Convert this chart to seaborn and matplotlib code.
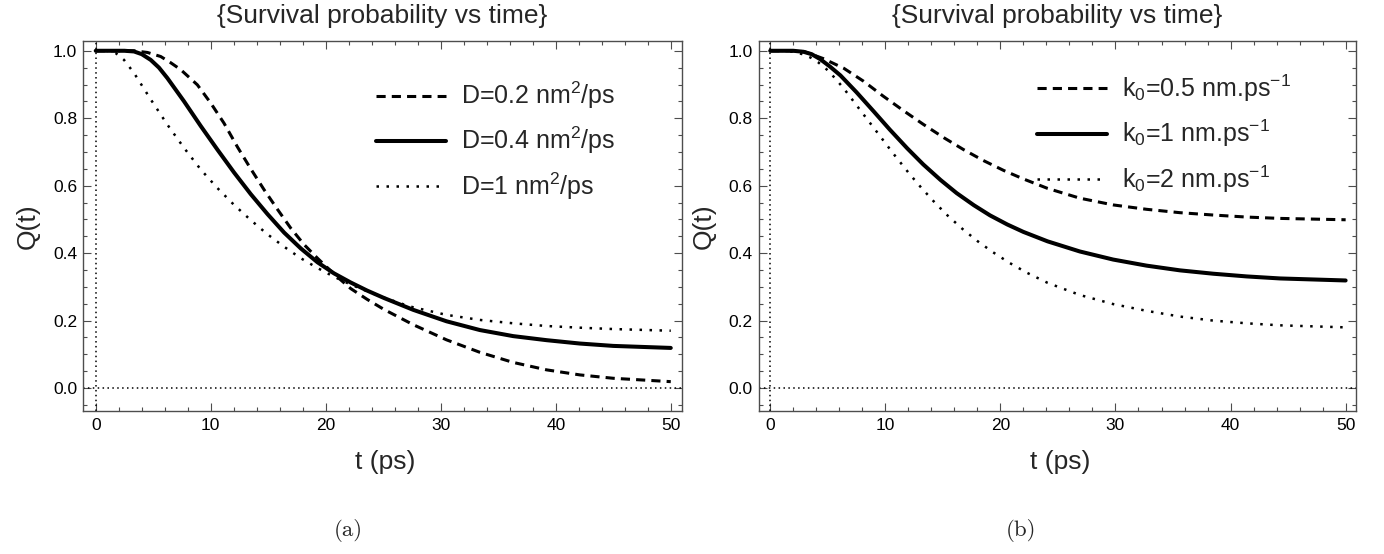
import numpy as np
import pandas as pd
import matplotlib
matplotlib.use("Agg")
import matplotlib.pyplot as plt
from matplotlib.ticker import MultipleLocator, FormatStrFormatter
import seaborn as sns

# ---------------- data ----------------
# Panel (a): diffusion coefficient D
t_d02 = [0, 3.3, 4.5, 5.65, 6.5, 7.39, 8.84, 10.0, 11.16, 12.32, 13.48, 14.64, 15.8, 16.96, 18.1,
         19.28, 20.72, 22.17, 23.6, 25.07, 27.6, 30.5, 33.4, 36.3, 39.2, 42.1, 45.0, 50]
q_d02 = [1.0, 1.0, 0.995, 0.983, 0.965, 0.944, 0.899, 0.845, 0.785, 0.715, 0.650, 0.588, 0.530, 0.474, 0.426,
         0.385, 0.338, 0.295, 0.263, 0.233, 0.188, 0.143, 0.106, 0.076, 0.054, 0.039, 0.029, 0.019]

t_d04 = [0, 2.5, 3.33, 4.0, 4.78, 5.5, 6.23, 7.68, 9.13, 10.58, 12.03, 13.48, 14.93, 16.38, 17.83,
         19.28, 20.72, 22.17, 23.6, 25.07, 27.6, 30.5, 33.4, 36.3, 39.2, 42.1, 45.0, 50]
q_d04 = [1.0, 1.0, 0.998, 0.990, 0.973, 0.950, 0.919, 0.850, 0.777, 0.707, 0.639, 0.575, 0.516, 0.461, 0.414,
         0.373, 0.340, 0.313, 0.289, 0.267, 0.232, 0.198, 0.172, 0.154, 0.142, 0.132, 0.125, 0.119]

t_d1 = [0, 1.0, 1.74, 2.46, 3.33, 4.78, 6.23, 7.68, 9.13, 10.58, 12.03, 13.48, 14.93, 16.38,
        17.83, 19.28, 20.72, 22.17, 23.6, 25.07, 27.3, 30.5, 33.4, 36.3, 39.2, 42.1, 45.0, 50]
q_d1 = [1.0, 1.0, 0.993, 0.973, 0.934, 0.856, 0.781, 0.712, 0.648, 0.593, 0.543, 0.498, 0.456, 0.419,
        0.385, 0.356, 0.330, 0.307, 0.287, 0.268, 0.242, 0.217, 0.202, 0.192, 0.184, 0.179, 0.175, 0.170]

# Panel (b): rate constant k0
t_k05 = [0, 2.0, 3.0, 4.6, 6.4, 8.1, 9.8, 11.6, 13.3, 15.1, 16.8, 18.5, 20.3, 22.0,
         24.1, 26.9, 29.8, 32.7, 35.6, 38.5, 41.4, 44.3, 50]
q_k05 = [1.0, 1.0, 0.997, 0.977, 0.948, 0.910, 0.866, 0.822, 0.782, 0.742, 0.707, 0.675, 0.645, 0.620,
         0.592, 0.563, 0.543, 0.530, 0.520, 0.513, 0.507, 0.503, 0.499]

t_k1 = [0, 2.0, 2.9, 3.6, 4.35, 5.2, 6.1, 7.5, 9.0, 10.4, 11.9, 13.3, 14.8, 16.2, 17.7, 19.1, 20.6,
        22.0, 24.1, 26.9, 29.8, 32.7, 35.6, 38.5, 41.4, 44.3, 50]
q_k1 = [1.0, 1.0, 0.997, 0.990, 0.975, 0.953, 0.927, 0.877, 0.820, 0.766, 0.711, 0.663, 0.617, 0.578, 0.542,
        0.512, 0.485, 0.463, 0.435, 0.405, 0.381, 0.363, 0.349, 0.339, 0.331, 0.325, 0.319]

t_k2 = [0, 1.0, 2.0, 2.8, 3.5, 4.2, 4.9, 5.6, 6.4, 7.8, 9.3, 10.7, 12.1, 13.1, 14.3, 15.4, 16.7, 18.0,
        19.3, 20.8, 22.3, 24.1, 26.9, 29.8, 32.7, 35.6, 38.5, 41.4, 44.3, 50]
q_k2 = [1.0, 1.0, 0.997, 0.990, 0.980, 0.965, 0.945, 0.920, 0.888, 0.825, 0.758, 0.695, 0.635, 0.595,
        0.550, 0.512, 0.472, 0.436, 0.404, 0.371, 0.342, 0.312, 0.276, 0.249, 0.229, 0.212, 0.200, 0.192,
        0.186, 0.180]

labels_a = ["D=0.2 nm$^{2}$/ps", "D=0.4 nm$^{2}$/ps", "D=1 nm$^{2}$/ps"]
labels_b = ["k$_{0}$=0.5 nm.ps$^{-1}$", "k$_{0}$=1 nm.ps$^{-1}$", "k$_{0}$=2 nm.ps$^{-1}$"]
title_text = "{Survival probability vs time}"
x_label = "t (ps)"
y_label = "Q(t)"
x_ticks = [0, 10, 20, 30, 40, 50]
y_ticks = [0.0, 0.2, 0.4, 0.6, 0.8, 1.0]

# ---------------- style ----------------
sns.set_theme(style="ticks")
plt.rcParams["font.family"] = ["Liberation Sans", "DejaVu Sans"]
plt.rcParams["mathtext.fontset"] = "custom"
plt.rcParams["mathtext.rm"] = "Liberation Sans"
plt.rcParams["mathtext.it"] = "Liberation Sans:italic"
plt.rcParams["mathtext.bf"] = "Liberation Sans:bold"
plt.rcParams["axes.unicode_minus"] = True

W, H = 1384, 554
fig = plt.figure(figsize=(W / 100, H / 100), dpi=100)
fig.patch.set_facecolor("white")

frame_col = "#4d4d4d"
styles = [
    dict(linestyle=(0, (3, 2)), linewidth=2.2, dash_capstyle="butt"),
    dict(linestyle="-", linewidth=2.9),
    dict(linestyle=(0, (1, 3)), linewidth=1.8, dash_capstyle="butt"),
]


def make_panel(rect, series, labels, xlim, leg_anchor, letter, letter_x):
    ax = fig.add_axes(rect)
    for (tt, qq), lab, st in zip(series, labels, styles):
        df = pd.DataFrame({"t": tt, "Q": qq})
        sns.lineplot(data=df, x="t", y="Q", ax=ax, color="black", label=lab,
                     legend=False, sort=False, **st)
    # Mathematica-style dotted axes through the origin
    ax.axhline(0, color="black", linewidth=1.1, linestyle=(0, (1, 2.2)), zorder=1)
    ax.axvline(0, color="black", linewidth=1.1, linestyle=(0, (1, 2.2)), zorder=1)

    ax.set_xlim(*xlim)
    ax.set_ylim(-0.068, 1.029)
    ax.set_xticks(x_ticks)
    ax.set_yticks(y_ticks)
    ax.xaxis.set_minor_locator(MultipleLocator(2))
    ax.yaxis.set_minor_locator(MultipleLocator(0.05))
    ax.yaxis.set_major_formatter(FormatStrFormatter("%.1f"))
    ax.tick_params(which="both", direction="in", top=True, right=True,
                   color=frame_col, width=0.8, labelsize=12.5, labelcolor="black")
    ax.tick_params(which="major", length=5.5)
    ax.tick_params(which="minor", length=3.0)
    ax.tick_params(axis="y", which="major", pad=4.5)
    ax.tick_params(axis="x", which="major", pad=5)
    for sp in ax.spines.values():
        sp.set_color(frame_col)
        sp.set_linewidth(1.0)

    ax.set_xlabel(x_label, fontsize=19, va="center")
    ax.xaxis.set_label_coords(0.504, -(462 - 411) / 370)
    ax.set_ylabel(y_label, fontsize=19, va="center")
    ax.yaxis.set_label_coords(-(83.3 - 28) / 598.4, 0.5)

    ax.text(0.5, 1 + 25 / 370, title_text, transform=ax.transAxes,
            ha="center", va="center", fontsize=19)

    ax.legend(loc="upper left", bbox_to_anchor=leg_anchor, frameon=False,
              fontsize=18, handlelength=2.8, handletextpad=0.6,
              labelspacing=0.55, borderpad=0, borderaxespad=0)

    fig.text(letter_x / W, 1 - 531 / H, letter, ha="center", va="center",
             fontsize=16.5, family="cmr10")
    return ax


ax_a = make_panel([83.3 / W, 1 - 411 / H, (681.7 - 83.3) / W, 370 / H],
                  [(t_d02, q_d02), (t_d04, q_d04), (t_d1, q_d1)], labels_a,
                  (-1.08, 50.95), (0.489, 0.895), "(a)", 348)
ax_b = make_panel([758.7 / W, 1 - 411 / H, (1356 - 758.7) / W, 370 / H],
                  [(t_k05, q_k05), (t_k1, q_k1), (t_k2, q_k2)], labels_b,
                  (-1.0, 50.9), (0.466, 0.914), "(b)", 1021)

fig.savefig("out.png", dpi=100, facecolor="white")
